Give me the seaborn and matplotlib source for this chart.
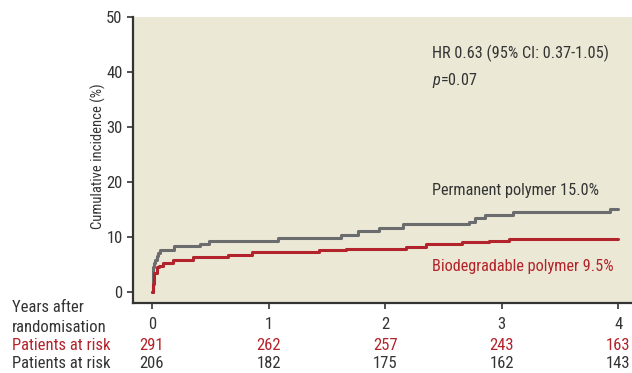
import matplotlib
matplotlib.use("Agg")
import matplotlib.pyplot as plt
import matplotlib.transforms as mtransforms
import pandas as pd
import seaborn as sns

# step curves (years, cumulative incidence %)
perm_t = [0, 0.005, 0.01, 0.02, 0.03, 0.04, 0.05, 0.07, 0.19, 0.41, 0.49,
          1.08, 1.62, 1.77, 1.95, 2.15, 2.72, 2.77, 2.86, 3.10, 3.93, 4.0]
perm_y = [0, 2.0, 4.5, 5.3, 5.9, 6.5, 7.1, 7.7, 8.4, 8.8, 9.3,
          9.9, 10.4, 11.1, 11.7, 12.3, 12.8, 13.4, 14.0, 14.5, 15.0, 15.0]
bio_t = [0, 0.01, 0.02, 0.04, 0.06, 0.095, 0.18, 0.35, 0.65, 0.86,
         1.43, 1.66, 2.18, 2.35, 2.66, 2.89, 3.06, 4.0]
bio_y = [0, 1.5, 3.5, 4.5, 4.8, 5.3, 5.8, 6.3, 6.7, 7.2,
         7.6, 7.9, 8.2, 8.7, 9.0, 9.3, 9.6, 9.6]

years = [0, 1, 2, 3, 4]
risk_bio = [291, 262, 257, 243, 163]
risk_perm = [206, 182, 175, 162, 143]

GREY = "#6b6c6e"
RED = "#b3232b"
TXT = "#333333"
BG = "#ebe8d6"
FS = 11.7

sns.set_theme(style="ticks")
plt.rcParams["font.family"] = ["Roboto Condensed", "DejaVu Sans"]
plt.rcParams["mathtext.fontset"] = "custom"
plt.rcParams["mathtext.it"] = "Roboto Condensed:italic"
plt.rcParams["mathtext.rm"] = "Roboto Condensed"

df = pd.concat([
    pd.DataFrame({"t": perm_t, "y": perm_y, "group": "Permanent"}),
    pd.DataFrame({"t": bio_t, "y": bio_y, "group": "Biodegradable"}),
])

fig = plt.figure(figsize=(6.32, 3.73), dpi=100)
ax = fig.add_axes([0.2104, 0.1877, 0.7896, 0.7667])
ax.set_facecolor(BG)

sns.lineplot(data=df, x="t", y="y", hue="group", estimator=None, sort=False,
             palette={"Permanent": GREY, "Biodegradable": RED},
             drawstyle="steps-post", linewidth=2.2, legend=False, ax=ax)

ax.set_xlim(-0.163, 4.117)
ax.set_ylim(-2, 50)
ax.set_xticks(years)
ax.set_yticks([0, 10, 20, 30, 40, 50])
ax.set_xlabel("")
ax.set_ylabel("Cumulative incidence (%)", fontsize=10.5, color=TXT)
ax.yaxis.set_label_coords(-0.055, 0.515)
ax.tick_params(axis="both", colors=TXT, labelsize=12, length=4, width=1.2)
ax.tick_params(axis="x", pad=6)
for side in ["top", "right"]:
    ax.spines[side].set_visible(False)
for side in ["left", "bottom"]:
    ax.spines[side].set_color("#333333")
    ax.spines[side].set_linewidth(1.6)

ax.text(2.40, 43.3, "HR 0.63 (95% CI: 0.37-1.05)", fontsize=FS, color=TXT, va="center")
ax.text(2.40, 38.4, r"$p$=0.07", fontsize=FS, color=TXT, va="center")
ax.text(2.40, 18.5, "Permanent polymer 15.0%", fontsize=FS, color=TXT, va="center")
ax.text(2.40, 4.7, "Biodegradable polymer 9.5%", fontsize=FS, color=RED, va="center")

# number at risk table below the axis
tr = mtransforms.blended_transform_factory(ax.transData, fig.transFigure)
for x, a, b in zip(years, risk_bio, risk_perm):
    ax.text(x, 1 - 346 / 373, str(a), transform=tr, ha="center", va="center",
            fontsize=12, color=RED, clip_on=False)
    ax.text(x, 1 - 363 / 373, str(b), transform=tr, ha="center", va="center",
            fontsize=12, color=TXT, clip_on=False)

fig.text(0.019, 1 - 308 / 373, "Years after", fontsize=12, color=TXT, va="center")
fig.text(0.019, 1 - 327 / 373, "randomisation", fontsize=12, color=TXT, va="center")
fig.text(0.019, 1 - 346 / 373, "Patients at risk", fontsize=12, color=RED, va="center")
fig.text(0.019, 1 - 363 / 373, "Patients at risk", fontsize=12, color=TXT, va="center")

fig.savefig("out.png", dpi=100)
